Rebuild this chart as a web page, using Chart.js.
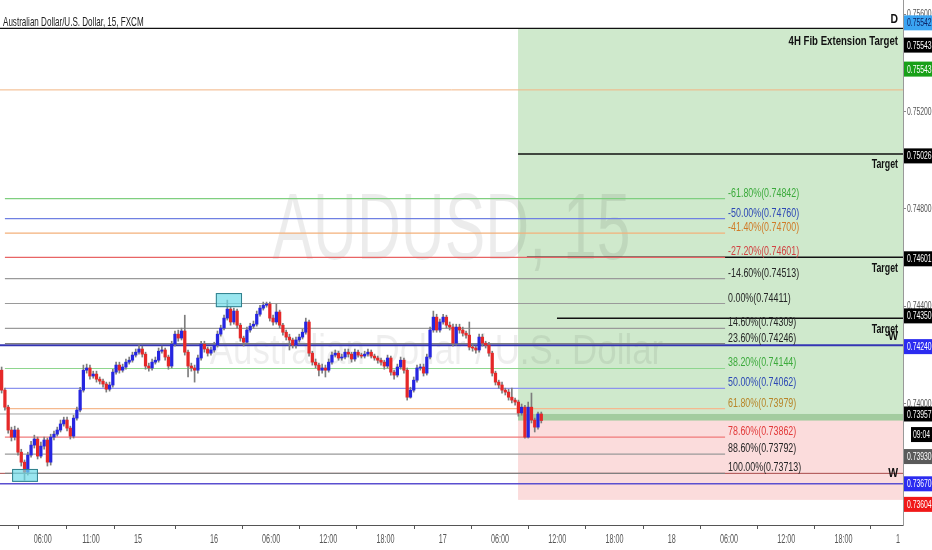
<!DOCTYPE html>
<html>
<head>
<meta charset="utf-8">
<script src="https://cdn.jsdelivr.net/npm/chart.js@4.4.1/dist/chart.umd.min.js"></script>
<style>
  html, body { margin: 0; padding: 0; background: #fff; }
  #wrap { width: 932px; height: 550px; }
</style>
</head>
<body>
<div id="wrap"><canvas id="chart"></canvas></div>
<script>
// --- DATA (AUDUSD 15m) ---
const firstOpen = 0.74137;
const closes = [
  0.74055,0.73985,0.73891,0.73862,0.73891,0.73800,0.73759,0.73718,0.73788,0.73829,
  0.73854,0.73784,0.73825,0.73850,0.73759,0.73862,0.73874,0.73891,0.73916,0.73932,
  0.73899,0.73866,0.73940,0.73973,0.74055,0.74137,0.74146,0.74113,0.74121,0.74100,
  0.74092,0.74080,0.74059,0.74076,0.74129,0.74158,0.74137,0.74150,0.74170,0.74178,
  0.74199,0.74211,0.74224,0.74203,0.74154,0.74146,0.74170,0.74178,0.74215,0.74220,
  0.74191,0.74154,0.74244,0.74285,0.74269,0.74298,0.74211,0.74154,0.74146,0.74137,
  0.74187,0.74244,0.74224,0.74207,0.74220,0.74240,0.74285,0.74310,0.74351,0.74388,
  0.74335,0.74380,0.74322,0.74269,0.74252,0.74302,0.74318,0.74326,0.74367,0.74392,
  0.74404,0.74409,0.74351,0.74335,0.74376,0.74322,0.74293,0.74273,0.74261,0.74240,
  0.74261,0.74273,0.74293,0.74335,0.74207,0.74170,0.74158,0.74137,0.74146,0.74137,
  0.74170,0.74199,0.74207,0.74187,0.74191,0.74211,0.74203,0.74183,0.74211,0.74199,
  0.74195,0.74203,0.74211,0.74195,0.74187,0.74178,0.74170,0.74154,0.74187,0.74129,
  0.74117,0.74150,0.74178,0.74137,0.74026,0.74055,0.74096,0.74146,0.74150,0.74125,
  0.74191,0.74302,0.74355,0.74302,0.74335,0.74355,0.74322,0.74314,0.74248,0.74314,
  0.74302,0.74289,0.74281,0.74232,0.74228,0.74220,0.74273,0.74248,0.74240,0.74207,
  0.74125,0.74088,0.74076,0.74055,0.74047,0.74026,0.74014,0.74006,0.73961,0.73985,
  0.73862,0.73985,0.73932,0.73903,0.73957,0.73930
];
const highs = [
  0.74150,0.74063,0.73993,0.73903,0.73907,0.73899,0.73812,0.73768,0.73800,0.73845,
  0.73870,0.73862,0.73841,0.73862,0.73858,0.73874,0.73887,0.73903,0.73932,0.73944,
  0.73944,0.73907,0.73952,0.73985,0.74067,0.74158,0.74162,0.74158,0.74133,0.74133,
  0.74109,0.74100,0.74088,0.74088,0.74141,0.74170,0.74170,0.74162,0.74183,0.74191,
  0.74211,0.74224,0.74240,0.74236,0.74211,0.74166,0.74183,0.74191,0.74228,0.74236,
  0.74228,0.74199,0.74256,0.74298,0.74302,0.74310,0.74363,0.74220,0.74166,0.74158,
  0.74199,0.74256,0.74256,0.74232,0.74232,0.74252,0.74298,0.74322,0.74363,0.74425,
  0.74396,0.74392,0.74388,0.74330,0.74277,0.74314,0.74330,0.74339,0.74380,0.74404,
  0.74417,0.74417,0.74417,0.74363,0.74409,0.74384,0.74330,0.74302,0.74285,0.74269,
  0.74273,0.74285,0.74306,0.74351,0.74343,0.74215,0.74183,0.74166,0.74162,0.74158,
  0.74183,0.74211,0.74220,0.74215,0.74203,0.74224,0.74224,0.74211,0.74224,0.74220,
  0.74207,0.74215,0.74224,0.74220,0.74203,0.74195,0.74187,0.74178,0.74199,0.74195,
  0.74137,0.74162,0.74191,0.74187,0.74146,0.74067,0.74109,0.74158,0.74162,0.74162,
  0.74203,0.74314,0.74380,0.74367,0.74347,0.74367,0.74363,0.74335,0.74326,0.74326,
  0.74326,0.74314,0.74298,0.74335,0.74244,0.74236,0.74285,0.74285,0.74256,0.74252,
  0.74215,0.74133,0.74096,0.74088,0.74063,0.74059,0.74063,0.74022,0.74014,0.73998,
  0.73993,0.74006,0.74043,0.73940,0.73965,0.73965
];
const lows = [
  0.74043,0.73973,0.73878,0.73846,0.73850,0.73788,0.73743,0.73685,0.73706,0.73780,
  0.73817,0.73772,0.73776,0.73812,0.73743,0.73747,0.73850,0.73866,0.73883,0.73907,
  0.73887,0.73854,0.73858,0.73932,0.73965,0.74047,0.74125,0.74100,0.74104,0.74088,
  0.74080,0.74067,0.74047,0.74051,0.74067,0.74121,0.74125,0.74129,0.74141,0.74162,
  0.74170,0.74191,0.74203,0.74191,0.74141,0.74133,0.74137,0.74162,0.74170,0.74207,
  0.74178,0.74141,0.74146,0.74236,0.74256,0.74261,0.74199,0.74109,0.74133,0.74088,
  0.74125,0.74178,0.74211,0.74195,0.74199,0.74211,0.74232,0.74277,0.74302,0.74343,
  0.74322,0.74326,0.74310,0.74256,0.74236,0.74244,0.74293,0.74310,0.74318,0.74359,
  0.74384,0.74396,0.74339,0.74322,0.74326,0.74310,0.74281,0.74261,0.74220,0.74228,
  0.74228,0.74252,0.74265,0.74285,0.74195,0.74158,0.74146,0.74113,0.74125,0.74109,
  0.74129,0.74162,0.74191,0.74178,0.74178,0.74183,0.74191,0.74170,0.74174,0.74191,
  0.74187,0.74187,0.74195,0.74187,0.74178,0.74166,0.74158,0.74141,0.74146,0.74117,
  0.74100,0.74109,0.74141,0.74125,0.74014,0.74022,0.74047,0.74088,0.74137,0.74113,
  0.74117,0.74183,0.74293,0.74293,0.74293,0.74326,0.74310,0.74302,0.74236,0.74240,
  0.74289,0.74277,0.74269,0.74220,0.74215,0.74207,0.74211,0.74236,0.74228,0.74195,
  0.74113,0.74076,0.74063,0.74043,0.74035,0.74014,0.74002,0.73993,0.73948,0.73952,
  0.73858,0.73858,0.73920,0.73883,0.73895,0.73920
];

// x axis: candle slots, time labels
const xTickAt = [12.6, 27.3, 41.7, 64.9, 82.4, 99.9, 117.4, 134.9, 152.4, 169.9, 187.4, 204.9, 222.4, 239.9, 257.4, 274.1];
const xTickLabels = ['06:00', '11:00', '15', '16', '06:00', '12:00', '18:00', '17', '06:00', '12:00', '18:00', '18', '06:00', '12:00', '18:00', '1'];
const yTicks = [0.756, 0.752, 0.748, 0.744, 0.740];

// fib retracement / extension
const fibPct = ['-61.80%', '-50.00%', '-41.40%', '-27.20%', '-14.60%', '0.00%', '14.60%', '23.60%', '38.20%', '50.00%', '61.80%', '78.60%', '88.60%', '100.00%'];
const fibLevels = [0.74842, 0.74760, 0.74700, 0.74601, 0.74513, 0.74411, 0.74309, 0.74246, 0.74144, 0.74062, 0.73979, 0.73862, 0.73792, 0.73713];
const fibFrom = 1.0, fibTo = 221.2;

// targets
const targetLevels = [0.75026, 0.74601, 0.74350];
const targetFrom = [157.9, 160.6, 169.8];

// long position
const posStart = 157.9;
const posEntry = 0.73957, posTarget = 0.75543, posStop = 0.73604, lastPrice = 0.73930;

// full width levels
const levelD = 0.75542, levelOrange = 0.75289, levelW1 = 0.74240, levelW2 = 0.73713, levelBlue = 0.73670;

// highlight boxes (pivot points)
const boxX0 = [3.2, 65.5], boxX1 = [11.1, 73.5], boxTop = [0.73731, 0.74454], boxBot = [0.73678, 0.74396];

// price tags on the axis
const tagValues = [0.75542, 0.75543, 0.75543, 0.75026, 0.74601, 0.74350, 0.74240, 0.73957, 0.73930, 0.73930, 0.73670, 0.73604];
const tagTexts = ['0.75542', '0.75543', '0.75543', '0.75026', '0.74601', '0.74350', '0.74240', '0.73957', '09:04', '0.73930', '0.73670', '0.73604'];

// --- STYLES ---
const UP = '#2626e0', DOWN = '#e52828', WICK = '#7d7d7d';
const fibLineColors = ['#7fcf7f', '#6f80e2', '#f3b07a', '#e86464', '#9a9a9a', '#9a9a9a', '#9a9a9a', '#808080', '#8ed68e', '#8c93ee', '#f5b98e', '#f07a7a', '#9a9a9a', '#808080'];
const fibTextColors = ['#3caa3c', '#2d48b5', '#d07b28', '#d24242', '#262626', '#262626', '#262626', '#262626', '#3caa3c', '#2d48b5', '#b8862a', '#e23a3a', '#262626', '#262626'];
const tagBg = ['#3aa4f2', '#000', '#18a018', '#000', '#000', '#000', '#2b2bf0', '#000', '#000', '#5a5a5a', '#2b2bf0', '#f01818'];
const tagFg = ['#0d2466', '#fff', '#fff', '#fff', '#fff', '#fff', '#fff', '#fff', '#fff', '#fff', '#fff', '#fff'];
const tagShift = [-5.5, 17, 41, 2, 1.5, -2.5, 1.5, 0, 14, 36, 0, 4.5];
const FONT = '"Liberation Sans", Arial, sans-serif';

const opens = closes.map((c, i) => (i ? closes[i - 1] : firstOpen));
const bodies = closes.map((c, i) => ({ x: i, y: [opens[i], c] }));
const wicks = closes.map((c, i) => ({ x: i, y: [lows[i], highs[i]] }));

const hline = (y, x0, x1, color, width) => ({
  type: 'line',
  data: [{ x: x0, y }, { x: x1, y }],
  borderColor: color,
  borderWidth: width,
  pointRadius: 0,
  order: 5
});

const X_MIN = -0.5, X_MAX = 275.6;
const lineSets = [];
fibLevels.forEach((v, i) => lineSets.push(hline(v, fibFrom, fibTo, fibLineColors[i], 1.2)));
lineSets.push(hline(levelOrange, X_MIN, X_MAX, '#f2b584', 1));
lineSets.push(hline(posEntry, X_MIN, posStart, '#a0a0a0', 1));
lineSets.push(hline(levelW2, X_MIN, X_MAX, '#a84a4a', 1));
lineSets.push(hline(levelBlue, X_MIN, X_MAX, '#5a4fd0', 1.6));
lineSets.push(hline(levelW1, X_MIN, X_MAX, '#3434b4', 2));
lineSets.push(hline(levelD, X_MIN, X_MAX, '#111', 1.3));
targetLevels.forEach((v, i) => lineSets.push(hline(v, targetFrom[i], X_MAX, '#111', 1.5)));

// condensed text helper
const squeeze = (ctx, str, x, y, k, align, base) => {
  ctx.save();
  ctx.translate(x, y);
  ctx.scale(k, 1);
  ctx.textAlign = align || 'left';
  ctx.textBaseline = base || 'alphabetic';
  ctx.fillText(str, 0, 0);
  ctx.restore();
};

const drawing = {
  id: 'drawing',
  beforeDraw(chart) {
    const { ctx, width, height } = chart;
    ctx.save();
    ctx.fillStyle = '#fff';
    ctx.fillRect(0, 0, width, height);
    ctx.restore();
  },
  beforeDatasetsDraw(chart) {
    const { ctx, chartArea: a, scales: { x, y } } = chart;
    const x0 = x.getPixelForValue(posStart);
    const yT = y.getPixelForValue(posTarget), yE = y.getPixelForValue(posEntry);
    const yS = y.getPixelForValue(posStop), yL = y.getPixelForValue(lastPrice);
    ctx.save();
    ctx.fillStyle = '#cfe9cc';
    ctx.fillRect(x0, yT, a.right - x0, yE - yT);
    ctx.fillStyle = '#fbdcdc';
    ctx.fillRect(x0, yE, a.right - x0, yS - yE);
    ctx.fillStyle = '#a3cc9f';
    ctx.fillRect(x0, yE, a.right - x0, yL - yE);
    // watermark
    const cx = (a.left + a.right) / 2;
    ctx.fillStyle = 'rgba(0,0,0,0.075)';
    ctx.font = '95px ' + FONT;
    squeeze(ctx, 'AUDUSD, 15', cx, 233, 0.64, 'center', 'middle');
    ctx.fillStyle = 'rgba(0,0,0,0.065)';
    ctx.font = '42px ' + FONT;
    squeeze(ctx, 'Australian Dollar / U.S. Dollar', cx - 15, 352, 0.83, 'center', 'middle');
    ctx.restore();
  },
  afterDatasetsDraw(chart) {
    const { ctx, chartArea: a, scales: { x, y } } = chart;
    ctx.save();
    // pivot boxes
    boxX0.forEach((b, i) => {
      const bx = x.getPixelForValue(b), bx1 = x.getPixelForValue(boxX1[i]);
      const by = y.getPixelForValue(boxTop[i]), by1 = y.getPixelForValue(boxBot[i]);
      ctx.fillStyle = 'rgba(110,220,232,0.7)';
      ctx.fillRect(bx, by, bx1 - bx, by1 - by);
      ctx.strokeStyle = '#2f7f8c';
      ctx.lineWidth = 1;
      ctx.strokeRect(bx + 0.5, by + 0.5, bx1 - bx - 1, by1 - by - 1);
    });
    // fib labels
    ctx.font = '12px ' + FONT;
    const lx = x.getPixelForValue(fibTo) + 3;
    fibLevels.forEach((v, i) => {
      ctx.fillStyle = fibTextColors[i];
      squeeze(ctx, fibPct[i] + '(' + v.toFixed(5) + ')', lx, y.getPixelForValue(v) - 2, 0.74, 'left', 'alphabetic');
    });
    // bold captions
    const rx = a.right - 5;
    ctx.fillStyle = '#111';
    ctx.font = 'bold 13px ' + FONT;
    targetLevels.forEach(v => squeeze(ctx, 'Target', rx, y.getPixelForValue(v) + 11, 0.68, 'right', 'middle'));
    squeeze(ctx, '4H Fib Extension Target', rx, y.getPixelForValue(levelD) + 13, 0.74, 'right', 'middle');
    squeeze(ctx, 'D', rx, y.getPixelForValue(levelD) - 9, 0.8, 'right', 'middle');
    squeeze(ctx, 'W', rx, y.getPixelForValue(levelW1) - 9, 0.8, 'right', 'middle');
    squeeze(ctx, 'W', rx, y.getPixelForValue(levelW2), 0.8, 'right', 'middle');
    // title
    ctx.fillStyle = '#222';
    ctx.font = '13px ' + FONT;
    squeeze(ctx, 'Australian Dollar/U.S. Dollar, 15, FXCM', 3, 26, 0.62, 'left', 'alphabetic');
    ctx.restore();
  },
  afterDraw(chart) {
    const { ctx, chartArea: a, scales: { x, y } } = chart;
    ctx.save();
    ctx.fillStyle = '#555';
    ctx.font = '11px ' + FONT;
    yTicks.forEach(v => squeeze(ctx, v.toFixed(5), a.right + 4, y.getPixelForValue(v), 0.62, 'left', 'middle'));
    ctx.font = '12px ' + FONT;
    xTickAt.forEach((v, i) => squeeze(ctx, xTickLabels[i], x.getPixelForValue(v), a.bottom + 15, 0.6, 'center', 'middle'));
    // price tags
    ctx.font = '11px ' + FONT;
    tagValues.forEach((v, i) => {
      const cy = y.getPixelForValue(v) + tagShift[i];
      const left = tagTexts[i].includes(':') ? a.right + 8 : a.right + 1;
      ctx.fillStyle = tagBg[i];
      ctx.fillRect(left, cy - 7.5, chart.width - left, 15);
      ctx.fillStyle = tagFg[i];
      squeeze(ctx, tagTexts[i], left + (tagTexts[i].includes(':') ? 2 : 3), cy + 0.5, 0.62, 'left', 'middle');
    });
    ctx.restore();
  }
};

new Chart(document.getElementById('chart').getContext('2d'), {
  type: 'bar',
  data: {
    datasets: [
      { data: bodies, backgroundColor: c => (c.raw && c.raw.y[1] >= c.raw.y[0] ? UP : DOWN), barThickness: 2.6, minBarLength: 1, grouped: false, order: 0 },
      { data: wicks, backgroundColor: WICK, barThickness: 1, grouped: false, order: 1 },
      ...lineSets
    ]
  },
  options: {
    responsive: true,
    maintainAspectRatio: false,
    animation: false,
    layout: { padding: 0 },
    plugins: { legend: { display: false }, tooltip: { enabled: false } },
    scales: {
      x: {
        type: 'linear', min: X_MIN, max: X_MAX, offset: false,
        grid: { display: true, drawOnChartArea: false, drawTicks: true, tickLength: 4, color: '#555' },
        border: { color: '#555', width: 1 },
        ticks: { display: false },
        afterBuildTicks: s => { s.ticks = xTickAt.map(v => ({ value: v })); },
        afterFit: s => { s.height = 25; }
      },
      y: {
        type: 'linear', position: 'right', min: 0.735007, max: 0.756585,
        grid: { display: true, drawOnChartArea: false, drawTicks: true, tickLength: 3, color: '#888' },
        border: { color: '#999', width: 1 },
        ticks: { display: false },
        afterBuildTicks: s => { s.ticks = yTicks.map(v => ({ value: v })); },
        afterFit: s => { s.width = 29; }
      }
    }
  },
  plugins: [drawing]
});
</script>
</body>
</html>
